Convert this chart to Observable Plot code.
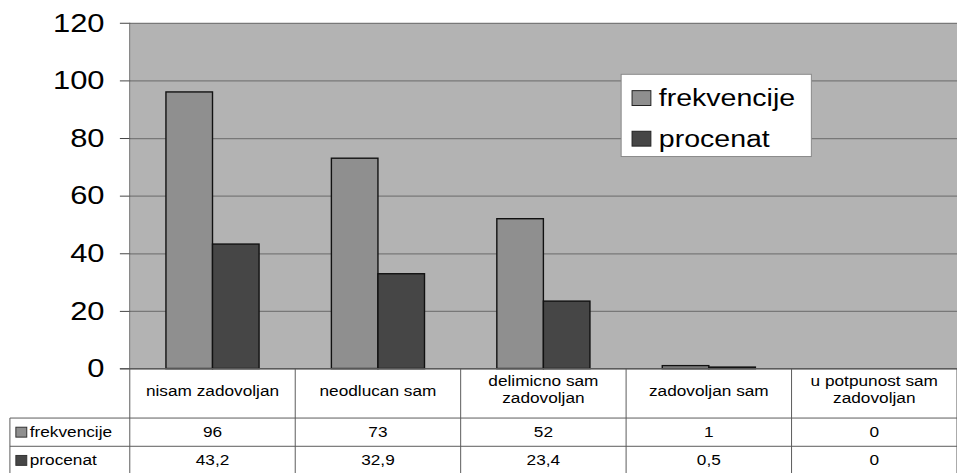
<!DOCTYPE html>
<html>
<head>
<meta charset="utf-8">
<script src="https://cdn.jsdelivr.net/npm/d3@7"></script>
<script src="https://cdn.jsdelivr.net/npm/@observablehq/plot@0.6"></script>
<style>
html, body { margin: 0; padding: 0; overflow: hidden; background: #fff; }
#wrap { width: 957px; height: 473px; overflow: hidden; position: relative; }
#wrap svg { display: block; }
</style>
</head>
<body>
<div id="wrap"></div>
<script>
// ---- data ----
const categories = ["nisam zadovoljan", "neodlucan sam", "delimicno sam zadovoljan", "zadovoljan sam", "u potpunost sam zadovoljan"];
const categoryLabels = [["nisam zadovoljan"], ["neodlucan sam"], ["delimicno sam", "zadovoljan"], ["zadovoljan sam"], ["u potpunost sam", "zadovoljan"]];
const series = ["frekvencije", "procenat"];
const frekvencije = [96, 73, 52, 1, 0];
const procenat = [43.2, 32.9, 23.4, 0.5, 0];
const yTicks = [0, 20, 40, 60, 80, 100, 120];
const seriesColors = ["#8f8f8f", "#464646"];

const rows = categories.flatMap((c, i) => [
  {category: c, series: series[0], value: frekvencije[i]},
  {category: c, series: series[1], value: procenat[i]}
]);
const fmt = v => String(v).replace(".", ",");
const SX = 1.2; // horizontal stretch of text, as in the reference
const FONT = "'Liberation Sans', Arial, sans-serif";

const chart = Plot.plot({
  width: 966,
  height: 480,
  marginLeft: 131,
  marginRight: 0,
  marginTop: 23,
  marginBottom: 108,
  style: {fontFamily: FONT, background: "transparent", color: "#000", overflow: "visible"},
  x: {type: "band", domain: categories, padding: 0, axis: null},
  y: {domain: [0, 120], axis: null},
  color: {domain: series, range: seriesColors},
  marks: [
    Plot.frame({fill: "#b3b3b3", stroke: null}),
    Plot.ruleY(yTicks, {stroke: "#787878", strokeWidth: 1.3}),
    Plot.barY(rows.filter(d => d.series === series[0] && d.value > 0), {
      x: "category", y: "value", fill: "series",
      stroke: "#111", strokeWidth: 1.4, insetLeft: 36.5, insetRight: 83.5
    }),
    Plot.barY(rows.filter(d => d.series === series[1] && d.value > 0), {
      x: "category", y: "value", fill: "series",
      stroke: "#111", strokeWidth: 1.4, insetLeft: 83.5, insetRight: 36.5
    }),
    Plot.axisY(yTicks, {anchor: "left", label: null, tickSize: 10, tickPadding: 16, fontSize: 26, stroke: "#444", fill: "#000", tickFormat: d => String(d)})
  ]
});

document.getElementById("wrap").appendChild(chart);

const svg = d3.select(chart);
// stretch axis labels horizontally
svg.selectAll("g[aria-label='y-axis tick label'] text").each(function() {
  const t = this.getAttribute("transform") || "";
  this.setAttribute("transform", t + ` scale(${SX},1)`);
});

const xs = chart.scale("x");
const ys = chart.scale("y");
const bw = xs.bandwidth;
const plotLeft = xs.range[0], plotRight = xs.range[1];
const base = ys.apply(0), plotTop = ys.apply(120);
const headerBottom = base + 50;
const rowH = 28.5;
const tableLeft = 10;
const tableBottom = headerBottom + 2 * rowH;

const lines = svg.append("g").attr("stroke", "#5a5a5a").attr("stroke-width", 1).attr("fill", "none");
function line(x1, y1, x2, y2) {
  lines.append("line").attr("x1", x1).attr("y1", y1).attr("x2", x2).attr("y2", y2);
}
line(plotLeft, plotTop, plotLeft, tableBottom + 4);
line(plotLeft - 10, base, plotRight, base);
categories.forEach((c, i) => {
  if (i > 0) line(xs.apply(c), base, xs.apply(c), tableBottom + 4);
});
line(plotRight, base, plotRight, tableBottom + 4);
line(tableLeft, headerBottom, plotRight, headerBottom);
line(tableLeft, headerBottom + rowH, plotRight, headerBottom + rowH);
line(tableLeft, tableBottom, plotRight, tableBottom);
line(tableLeft, headerBottom, tableLeft, tableBottom + 4);

const texts = svg.append("g").attr("fill", "#000").attr("font-family", FONT);
function stext(x, y, str, size, anchor) {
  texts.append("text")
    .attr("transform", `translate(${x},${y}) scale(${SX},1)`)
    .attr("text-anchor", anchor)
    .attr("dy", "0.35em")
    .attr("font-size", size)
    .text(str);
}
categories.forEach((c, i) => {
  const cx = xs.apply(c) + bw / 2;
  const lbl = categoryLabels[i];
  if (lbl.length === 1) stext(cx, base + 23, lbl[0], 14.5, "middle");
  else {
    stext(cx, base + 13, lbl[0], 14.5, "middle");
    stext(cx, base + 30, lbl[1], 14.5, "middle");
  }
});
const rowData = [frekvencije, procenat];
rowData.forEach((vals, r) => {
  const cy = headerBottom + r * rowH + rowH / 2;
  texts.append("rect")
    .attr("x", 16).attr("y", cy - 5).attr("width", 11).attr("height", 10)
    .attr("fill", seriesColors[r]).attr("stroke", "#333").attr("stroke-width", 1);
  stext(30, cy, series[r], 14.5, "start");
  categories.forEach((c, i) => {
    stext(xs.apply(c) + bw / 2, cy, fmt(vals[i]), 14.5, "middle");
  });
});

const lg = svg.append("g").attr("font-family", FONT);
lg.append("rect").attr("x", 627).attr("y", 75).attr("width", 192).attr("height", 83)
  .attr("fill", "#fff").attr("stroke", "#8a8a8a").attr("stroke-width", 1);
series.forEach((s, i) => {
  const cy = 99 + i * 41;
  lg.append("rect").attr("x", 638).attr("y", cy - 7.5).attr("width", 19).attr("height", 15)
    .attr("fill", seriesColors[i]).attr("stroke", "#222").attr("stroke-width", 1);
  lg.append("text")
    .attr("transform", `translate(665,${cy}) scale(${SX},1)`)
    .attr("text-anchor", "start")
    .attr("dy", "0.35em").attr("font-size", 24).attr("fill", "#000")
    .text(s);
});
</script>
</body>
</html>
